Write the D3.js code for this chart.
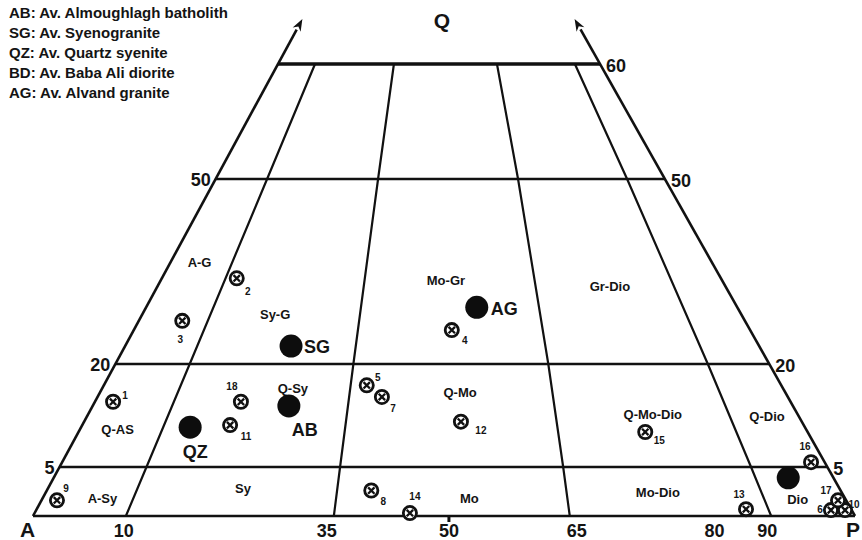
<!DOCTYPE html>
<html>
<head>
<meta charset="utf-8">
<script src="https://cdn.jsdelivr.net/npm/d3@7"></script>
<style>
  body { margin: 0; background: #fff; }
  svg text { font-family: "Liberation Sans", Arial, sans-serif; font-weight: bold; fill: #141414; }
</style>
</head>
<body>
<div id="chart"></div>
<script>
// legend lines (top left)
const legendLines = [
  "AB: Av. Almoughlagh batholith",
  "SG: Av. Syenogranite",
  "QZ: Av. Quartz syenite",
  "BD: Av. Baba Ali diorite",
  "AG: Av. Alvand granite",
];

// Q levels drawn as horizontal lines, P/(A+P) field boundaries
const qLevels = [0, 5, 20, 50, 60];
const fieldBounds = [10, 35, 65, 90];
const baseTickValues = [10, 35, 50, 65, 80, 90];
const leftTickValues = [5, 20, 50];
const rightTickValues = [60, 50, 20, 5];

// samples (Q %, P/(A+P) %)
const sampleIds = ["1", "2", "3", "4", "5", "6", "7", "8", "9", "10", "11", "12", "13", "14", "15", "16", "17", "18"];
const sampleQ = [14.5, 33.9, 27.0, 25.5, 16.9, 0.6, 15.2, 2.6, 1.6, 0.6, 11.1, 11.6, 0.7, 0.3, 10.1, 5.7, 1.6, 14.5];
const sampleP = [2.3, 12.0, 6.3, 50.8, 37.5, 97.5, 40.0, 39.6, 1.7, 99.2, 19.1, 51.8, 87.2, 44.9, 77.2, 98.2, 99.0, 19.6];

// averages
const avgNames = ["AB", "SG", "QZ", "BD", "AG"];
const avgQ = [13.9, 22.9, 10.8, 3.9, 29.2];
const avgP = [26.6, 24.8, 13.7, 94.2, 54.9];

// field names
const fieldNames = ["A-G", "Sy-G", "Mo-Gr", "Gr-Dio", "Q-AS", "Q-Sy", "Q-Mo", "Q-Mo-Dio", "Q-Dio", "A-Sy", "Sy", "Mo", "Mo-Dio", "Dio"];
const fieldQ = [36.5, 28.1, 33.6, 32.5, 10.4, 16.5, 15.8, 12.7, 12.4, 1.8, 2.8, 1.8, 2.4, 1.7];
const fieldP = [4.7, 20.8, 50.0, 78.3, 4.6, 26.6, 51.8, 79.0, 95.4, 6.6, 23.2, 52.6, 76.7, 94.1];

const width = 862, height = 540;

const svg = d3
  .select("#chart")
  .append("svg")
  .attr("width", width)
  .attr("height", height);

// diagram is stretched unevenly in Q, edges stay straight
const yQ = d3.scaleLinear().domain(qLevels).range([516, 467, 364, 179, 64]);
const yBase = yQ(0), yTop = yQ(60);
const edgeL = d3.scaleLinear().domain([yBase, yTop]).range([33, 278]);
const edgeR = d3.scaleLinear().domain([yBase, yTop]).range([855, 600]);
const pDom = [0, 10, 35, 50, 65, 90, 100];
const pBottom = d3.scaleLinear().domain(pDom).range([0, 0.113, 0.366, 0.506, 0.653, 0.898, 1]);
const pTop = d3.scaleLinear().domain(pDom).range([0, 0.115, 0.36, 0.51, 0.68, 0.922, 1]);

function proj(q, p) {
  const y = yQ(q);
  const t = (yBase - y) / (yBase - yTop);
  const f = pBottom(p) * (1 - t) + pTop(p) * t;
  const xl = edgeL(y), xr = edgeR(y);
  return [xl + f * (xr - xl), y];
}

const line = d3.line();

// horizontal Q lines
svg
  .selectAll(".qline")
  .data(qLevels)
  .enter()
  .append("path")
  .attr("class", "qline")
  .attr("d", (q) => line([proj(q, 0), proj(q, 100)]))
  .attr("stroke", "#111")
  .attr("stroke-width", (q) => (q === 60 ? 3.4 : 2.6))
  .attr("fill", "none");

// field boundaries
svg
  .selectAll(".bound")
  .data(fieldBounds)
  .enter()
  .append("path")
  .attr("class", "bound")
  .attr("d", (b) => line(qLevels.map((q) => proj(q, b))))
  .attr("stroke", "#111")
  .attr("stroke-width", 2.2)
  .attr("fill", "none");

// outer edges with arrows towards Q
const arrowY = 19;
[[proj(0, 0), [edgeL(arrowY), arrowY]], [proj(0, 100), [edgeR(arrowY), arrowY]]].forEach(function (seg) {
  const a = seg[0], b = seg[1];
  const ang = Math.atan2(b[1] - a[1], b[0] - a[0]);
  const len = 12, half = 4.5;
  const back = [b[0] - len * Math.cos(ang), b[1] - len * Math.sin(ang)];
  svg
    .append("path")
    .attr("d", line([a, back]))
    .attr("stroke", "#111")
    .attr("stroke-width", 2.6)
    .attr("fill", "none");
  const nx = -Math.sin(ang), ny = Math.cos(ang);
  const notch = [b[0] - len * 0.7 * Math.cos(ang), b[1] - len * 0.7 * Math.sin(ang)];
  svg
    .append("path")
    .attr("d", line([b, [back[0] + nx * half, back[1] + ny * half], notch, [back[0] - nx * half, back[1] - ny * half]]) + "Z")
    .attr("fill", "#111");
});

// small tick at 50 on the base
const t50 = proj(0, 50);
svg
  .append("line")
  .attr("x1", t50[0])
  .attr("x2", t50[0])
  .attr("y1", t50[1])
  .attr("y2", t50[1] + 6)
  .attr("stroke", "#111")
  .attr("stroke-width", 3);

// base labels
const baseNudge = { 10: -2, 35: -7, 50: 0, 65: 7, 80: 24, 90: -4 };
svg
  .selectAll(".baseLabel")
  .data(baseTickValues)
  .enter()
  .append("text")
  .attr("class", "baseLabel")
  .attr("x", (v) => proj(0, v)[0] + baseNudge[v])
  .attr("y", yBase + 21)
  .attr("text-anchor", "middle")
  .attr("font-size", 18)
  .text((v) => v);

svg
  .selectAll(".leftLabel")
  .data(leftTickValues)
  .enter()
  .append("text")
  .attr("class", "leftLabel")
  .attr("x", (q) => proj(q, 0)[0] - 5)
  .attr("y", (q) => proj(q, 0)[1] + 1)
  .attr("text-anchor", "end")
  .attr("dominant-baseline", "central")
  .attr("font-size", 18)
  .text((q) => q);

svg
  .selectAll(".rightLabel")
  .data(rightTickValues)
  .enter()
  .append("text")
  .attr("class", "rightLabel")
  .attr("x", (q) => proj(q, 100)[0] + 6)
  .attr("y", (q) => proj(q, 100)[1] + 2)
  .attr("text-anchor", "start")
  .attr("dominant-baseline", "central")
  .attr("font-size", 18)
  .text((q) => q);

// corner names
svg.append("text").attr("x", 20).attr("y", 537).attr("font-size", 21).text("A");
svg.append("text").attr("x", 846).attr("y", 537).attr("font-size", 21).text("P");
svg.append("text").attr("x", 442).attr("y", 28).attr("text-anchor", "middle").attr("font-size", 21).text("Q");

// legend
svg
  .selectAll(".legend")
  .data(legendLines)
  .enter()
  .append("text")
  .attr("class", "legend")
  .attr("x", 9)
  .attr("y", (d, i) => 18 + i * 20)
  .attr("font-size", 15)
  .text((d) => d);

// field names
svg
  .selectAll(".field")
  .data(fieldNames)
  .enter()
  .append("text")
  .attr("class", "field")
  .attr("x", (d, i) => proj(fieldQ[i], fieldP[i])[0])
  .attr("y", (d, i) => proj(fieldQ[i], fieldP[i])[1])
  .attr("text-anchor", "middle")
  .attr("dominant-baseline", "central")
  .attr("font-size", 13)
  .text((d) => d);

// average compositions
const avgLabel = {
  AB: { dx: 16, dy: 24, anchor: "middle" },
  SG: { dx: 13, dy: 1, anchor: "start" },
  QZ: { dx: 5, dy: 25, anchor: "middle" },
  AG: { dx: 14, dy: 2, anchor: "start" },
};
const avgData = avgNames.map((n, i) => ({ name: n, xy: proj(avgQ[i], avgP[i]) }));

svg
  .selectAll(".avg")
  .data(avgData)
  .enter()
  .append("circle")
  .attr("class", "avg")
  .attr("cx", (d) => d.xy[0])
  .attr("cy", (d) => d.xy[1])
  .attr("r", 11.5)
  .attr("fill", "#0d0d0d");

svg
  .selectAll(".avgLabel")
  .data(avgData.filter((d) => avgLabel[d.name]))
  .enter()
  .append("text")
  .attr("class", "avgLabel")
  .attr("x", (d) => d.xy[0] + avgLabel[d.name].dx)
  .attr("y", (d) => d.xy[1] + avgLabel[d.name].dy)
  .attr("text-anchor", (d) => avgLabel[d.name].anchor)
  .attr("dominant-baseline", "central")
  .attr("font-size", 18)
  .text((d) => d.name);

// samples
const labelOffset = {
  1: [12, -6], 2: [11, 13], 3: [-2, 19], 4: [13, 10], 5: [11, -8], 6: [-11, -1],
  7: [11, 12], 8: [12, 11], 9: [9, -12], 10: [9, -6], 11: [16, 11], 12: [20, 9],
  13: [-7, -15], 14: [5, -17], 15: [14, 9], 16: [-6, -16], 17: [-12, -10], 18: [-9, -15],
};
const samples = sampleIds.map((id, i) => ({ id: id, xy: proj(sampleQ[i], sampleP[i]) }));

const mk = svg
  .selectAll(".sample")
  .data(samples)
  .enter()
  .append("g")
  .attr("class", "sample")
  .attr("transform", (d) => "translate(" + d.xy[0] + "," + d.xy[1] + ")");

mk.append("circle").attr("r", 6.6).attr("fill", "#fff").attr("stroke", "#111").attr("stroke-width", 2.8);
mk.append("path")
  .attr("d", "M-3.2,-3.2L3.2,3.2M-3.2,3.2L3.2,-3.2")
  .attr("stroke", "#111")
  .attr("stroke-width", 2.3);

svg
  .selectAll(".sampleLabel")
  .data(samples)
  .enter()
  .append("text")
  .attr("class", "sampleLabel")
  .attr("x", (d) => d.xy[0] + labelOffset[d.id][0])
  .attr("y", (d) => d.xy[1] + labelOffset[d.id][1])
  .attr("text-anchor", "middle")
  .attr("dominant-baseline", "central")
  .attr("font-size", 10)
  .text((d) => d.id);
</script>
</body>
</html>
